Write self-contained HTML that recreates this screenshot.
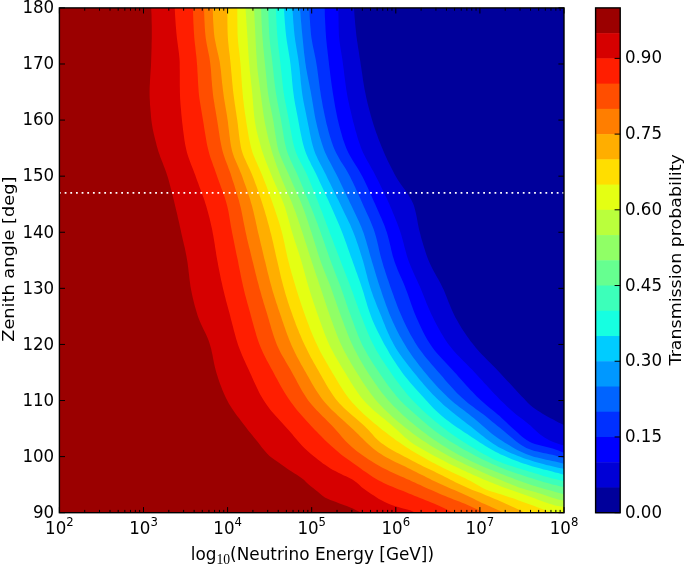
<!DOCTYPE html>
<html><head><meta charset="utf-8"><title>Transmission probability</title>
<style>html,body{margin:0;padding:0;background:#fff}svg{display:block}text{font-family:"DejaVu Sans","Liberation Sans",sans-serif;fill:#000}.ser{font-family:"Liberation Serif","DejaVu Serif",serif}</style>
</head><body>
<svg width="685" height="564" viewBox="0 0 685 564">
<rect width="685" height="564" fill="#fff"/>
<defs><clipPath id="pc"><rect x="59.4" y="7.9" width="504.6" height="504.80000000000007"/></clipPath></defs>
<g clip-path="url(#pc)" shape-rendering="geometricPrecision">
<rect x="59.4" y="7.9" width="504.6" height="504.80000000000007" fill="#9b0000"/>
<path d="M151.2,5.9 L151.2,7.9 L151.3,10.9 L151.5,13.9 L151.6,16.9 L151.6,20.0 L151.7,23.0 L151.8,26.0 L151.8,29.0 L151.8,32.0 L151.8,35.0 L151.8,38.0 L151.7,41.1 L151.6,44.1 L151.6,47.1 L151.5,50.1 L151.4,53.1 L151.3,56.1 L151.2,59.2 L151.1,62.2 L151.0,65.2 L150.8,68.2 L150.6,71.2 L150.4,74.2 L150.2,77.2 L150.0,80.2 L149.9,83.3 L149.7,86.3 L149.6,89.3 L149.6,92.3 L149.6,95.3 L149.7,98.3 L149.9,101.3 L150.0,104.4 L150.3,107.4 L150.5,110.4 L150.8,113.4 L151.0,116.4 L151.3,119.4 L151.7,122.4 L152.1,125.3 L152.6,128.3 L153.2,131.3 L153.9,134.2 L154.6,137.2 L155.3,140.1 L156.1,143.0 L156.8,146.0 L157.6,148.8 L158.5,151.7 L159.5,154.6 L160.5,157.4 L161.6,160.2 L162.7,163.0 L163.8,165.9 L164.9,168.7 L165.9,171.5 L166.9,174.4 L167.8,177.3 L168.6,180.1 L169.4,183.0 L170.2,186.0 L171.0,188.9 L171.7,191.8 L172.5,194.7 L173.2,197.7 L173.9,200.6 L174.6,203.5 L175.3,206.5 L176.0,209.4 L176.7,212.3 L177.4,215.3 L178.0,218.2 L178.7,221.1 L179.4,224.1 L180.0,227.0 L180.7,230.0 L181.3,232.9 L182.0,235.9 L182.6,238.8 L183.3,241.8 L184.0,244.7 L184.7,247.6 L185.3,250.6 L185.9,253.5 L186.5,256.5 L187.0,259.5 L187.5,262.4 L187.9,265.4 L188.3,268.4 L188.6,271.4 L189.0,274.4 L189.3,277.4 L189.7,280.4 L190.1,283.4 L190.5,286.4 L191.0,289.3 L191.6,292.3 L192.2,295.3 L192.9,298.2 L193.6,301.2 L194.3,304.1 L195.1,307.0 L196.0,309.9 L196.8,312.8 L197.7,315.7 L198.7,318.5 L199.8,321.3 L201.0,324.1 L202.3,326.8 L203.6,329.5 L205.0,332.3 L206.3,335.0 L207.5,337.8 L208.6,340.6 L209.6,343.4 L210.4,346.2 L211.2,349.1 L211.8,352.1 L212.5,355.1 L213.0,358.0 L213.6,361.0 L214.2,364.0 L214.9,366.9 L215.6,369.8 L216.4,372.7 L217.3,375.6 L218.2,378.5 L219.2,381.4 L220.2,384.2 L221.3,387.1 L222.4,389.9 L223.6,392.7 L224.8,395.4 L226.1,398.2 L227.4,400.8 L228.8,403.4 L230.4,406.0 L232.0,408.5 L233.7,411.0 L235.4,413.5 L237.2,415.9 L239.1,418.3 L240.9,420.8 L242.8,423.2 L244.6,425.6 L246.5,428.0 L248.3,430.4 L250.2,432.7 L252.1,435.1 L254.0,437.4 L255.9,439.7 L257.8,442.1 L259.7,444.5 L261.5,446.9 L263.4,449.3 L265.3,451.6 L267.3,453.8 L269.5,455.9 L271.8,457.7 L274.2,459.5 L276.8,461.2 L279.3,463.0 L281.7,464.7 L284.2,466.5 L286.6,468.2 L289.1,469.9 L291.6,471.6 L294.2,473.2 L296.8,474.8 L299.3,476.4 L301.8,478.2 L304.1,480.1 L306.2,482.2 L308.4,484.3 L310.7,486.2 L313.1,488.0 L315.5,489.9 L317.8,491.8 L320.1,493.8 L322.5,495.8 L324.9,497.4 L327.6,498.7 L330.3,499.9 L333.2,501.0 L336.0,502.1 L338.9,503.2 L341.7,504.2 L344.5,505.2 L347.4,506.3 L350.2,507.4 L352.9,508.6 L355.6,509.9 L358.3,511.3 L361.0,512.7 L364.7,514.7 L566.0,514.7 L566.0,5.9Z" fill="#d60000"/>
<path d="M174.7,5.9 L174.7,7.9 L174.9,10.9 L175.0,13.9 L175.2,17.0 L175.4,20.0 L175.6,23.0 L175.8,26.0 L176.1,29.0 L176.3,32.0 L176.6,35.0 L176.9,38.0 L177.3,41.0 L177.7,44.0 L178.1,47.0 L178.5,50.0 L178.9,53.1 L179.2,56.1 L179.5,59.1 L179.7,62.1 L179.7,65.1 L179.7,68.1 L179.8,71.1 L179.8,74.1 L179.8,77.2 L179.8,80.2 L179.8,83.2 L179.8,86.2 L179.9,89.3 L179.9,92.3 L180.0,95.3 L180.1,98.3 L180.3,101.3 L180.5,104.4 L180.8,107.4 L181.1,110.4 L181.3,113.4 L181.6,116.4 L181.9,119.4 L182.2,122.4 L182.6,125.4 L182.9,128.4 L183.3,131.5 L183.7,134.5 L184.1,137.5 L184.5,140.5 L185.0,143.4 L185.6,146.4 L186.2,149.3 L186.9,152.2 L187.7,155.1 L188.7,158.0 L189.7,160.8 L190.8,163.7 L191.9,166.5 L193.0,169.3 L194.1,172.2 L195.2,175.0 L196.2,177.9 L197.2,180.7 L198.3,183.5 L199.3,186.4 L200.4,189.2 L201.5,192.0 L202.5,194.9 L203.5,197.7 L204.5,200.6 L205.4,203.4 L206.3,206.3 L207.1,209.2 L207.9,212.1 L208.7,215.1 L209.5,218.0 L210.2,220.9 L210.9,223.9 L211.5,226.8 L212.2,229.8 L212.7,232.8 L213.3,235.7 L213.8,238.7 L214.3,241.7 L214.8,244.7 L215.2,247.7 L215.7,250.7 L216.1,253.6 L216.6,256.6 L217.1,259.6 L217.7,262.6 L218.2,265.5 L218.8,268.5 L219.4,271.5 L220.0,274.4 L220.6,277.4 L221.2,280.4 L221.9,283.3 L222.5,286.3 L223.2,289.2 L223.9,292.1 L224.6,295.1 L225.4,298.0 L226.1,300.9 L226.9,303.8 L227.7,306.8 L228.5,309.7 L229.3,312.6 L230.1,315.5 L230.8,318.4 L231.6,321.4 L232.3,324.3 L233.1,327.3 L233.8,330.2 L234.6,333.1 L235.4,336.0 L236.2,338.9 L237.1,341.8 L238.0,344.7 L239.0,347.5 L240.1,350.3 L241.2,353.1 L242.4,355.9 L243.6,358.7 L244.9,361.5 L246.1,364.2 L247.4,367.0 L248.7,369.7 L249.9,372.5 L251.2,375.2 L252.4,378.0 L253.6,380.8 L254.9,383.6 L256.2,386.3 L257.5,389.1 L258.8,391.8 L260.2,394.5 L261.7,397.1 L263.2,399.6 L264.8,402.1 L266.5,404.6 L268.3,407.0 L270.1,409.4 L272.0,411.7 L274.0,414.0 L276.0,416.3 L278.1,418.6 L280.1,420.8 L282.2,423.1 L284.2,425.3 L286.2,427.6 L288.3,429.8 L290.3,432.1 L292.3,434.3 L294.2,436.7 L296.2,439.0 L298.1,441.3 L300.1,443.6 L302.1,445.8 L304.3,447.9 L306.5,450.0 L308.7,452.0 L311.0,454.0 L313.4,455.9 L315.7,457.8 L318.1,459.7 L320.5,461.6 L322.9,463.4 L325.4,465.1 L327.9,466.8 L330.4,468.4 L333.0,469.9 L335.7,471.3 L338.4,472.7 L341.1,474.1 L343.9,475.4 L346.6,476.6 L349.4,477.9 L352.0,479.3 L354.5,481.0 L356.9,482.8 L359.2,484.8 L361.4,486.9 L363.8,488.8 L366.2,490.5 L368.7,492.2 L371.2,493.9 L373.8,495.6 L376.3,497.2 L378.9,498.9 L381.5,500.3 L384.2,501.7 L386.9,503.0 L389.7,504.2 L392.5,505.2 L395.4,506.2 L398.3,507.1 L401.2,507.9 L404.1,508.7 L407.1,509.4 L410.0,510.3 L412.8,511.4 L415.5,512.7 L419.7,514.7 L566.0,514.7 L566.0,5.9Z" fill="#ff1e00"/>
<path d="M192.9,5.9 L192.9,7.9 L193.0,10.9 L193.1,13.9 L193.2,17.0 L193.3,20.0 L193.4,23.0 L193.6,26.0 L193.7,29.0 L193.9,32.0 L194.1,35.0 L194.3,38.0 L194.6,41.0 L194.9,44.0 L195.3,47.0 L195.6,50.0 L195.9,53.0 L196.3,56.0 L196.6,59.0 L196.8,62.1 L197.1,65.1 L197.3,68.1 L197.4,71.1 L197.6,74.1 L197.8,77.1 L197.9,80.1 L198.1,83.2 L198.3,86.2 L198.5,89.2 L198.7,92.2 L199.0,95.2 L199.4,98.2 L199.8,101.1 L200.3,104.1 L200.8,107.1 L201.3,110.1 L201.8,113.1 L202.3,116.0 L202.8,119.0 L203.3,122.0 L203.8,125.0 L204.2,128.0 L204.7,131.0 L205.2,134.0 L205.7,136.9 L206.2,139.9 L206.7,142.9 L207.3,145.8 L208.0,148.7 L208.7,151.6 L209.5,154.5 L210.4,157.4 L211.4,160.3 L212.4,163.1 L213.4,166.0 L214.5,168.8 L215.5,171.7 L216.5,174.5 L217.5,177.4 L218.5,180.2 L219.5,183.1 L220.6,185.9 L221.6,188.8 L222.7,191.6 L223.7,194.5 L224.7,197.3 L225.6,200.2 L226.4,203.1 L227.2,206.0 L227.9,208.9 L228.5,211.8 L229.0,214.8 L229.5,217.8 L230.0,220.8 L230.5,223.7 L231.0,226.7 L231.6,229.7 L232.1,232.7 L232.7,235.6 L233.3,238.6 L233.9,241.5 L234.5,244.5 L235.1,247.5 L235.7,250.4 L236.3,253.4 L236.9,256.3 L237.6,259.3 L238.2,262.2 L238.7,265.2 L239.3,268.2 L239.9,271.1 L240.5,274.1 L241.1,277.0 L241.7,280.0 L242.4,282.9 L243.0,285.9 L243.7,288.8 L244.4,291.8 L245.1,294.7 L245.9,297.6 L246.7,300.5 L247.5,303.4 L248.3,306.3 L249.1,309.2 L249.9,312.1 L250.7,315.1 L251.5,318.0 L252.3,320.9 L253.1,323.8 L253.9,326.7 L254.7,329.6 L255.6,332.6 L256.4,335.5 L257.3,338.3 L258.3,341.2 L259.3,344.0 L260.4,346.8 L261.6,349.5 L262.8,352.3 L264.1,355.0 L265.5,357.7 L266.9,360.4 L268.3,363.0 L269.8,365.7 L271.2,368.4 L272.7,371.0 L274.1,373.7 L275.5,376.4 L277.0,379.0 L278.4,381.7 L279.9,384.4 L281.3,387.0 L282.8,389.6 L284.4,392.2 L286.0,394.8 L287.6,397.3 L289.3,399.8 L291.0,402.2 L292.8,404.6 L294.6,407.0 L296.5,409.4 L298.4,411.7 L300.4,414.0 L302.4,416.3 L304.4,418.6 L306.4,420.8 L308.5,423.1 L310.5,425.3 L312.6,427.5 L314.7,429.7 L316.8,431.8 L318.9,434.0 L321.0,436.1 L323.1,438.3 L325.3,440.4 L327.5,442.5 L329.7,444.6 L331.9,446.6 L334.2,448.6 L336.5,450.6 L338.8,452.6 L341.1,454.5 L343.4,456.3 L345.9,458.1 L348.4,459.8 L350.9,461.5 L353.3,463.3 L355.8,465.0 L358.3,466.8 L360.7,468.6 L363.2,470.4 L365.7,472.1 L368.2,473.8 L370.7,475.5 L373.2,477.2 L375.8,478.7 L378.3,480.2 L381.0,481.6 L383.6,482.9 L386.4,484.2 L389.1,485.4 L391.9,486.6 L394.7,487.8 L397.5,488.9 L400.3,490.0 L403.2,491.1 L406.0,492.2 L408.8,493.4 L411.6,494.5 L414.3,495.7 L417.1,496.8 L420.0,498.0 L422.8,499.1 L425.6,500.2 L428.4,501.3 L431.2,502.5 L433.9,503.6 L436.7,504.8 L439.5,506.1 L442.2,507.3 L444.9,508.6 L447.6,510.0 L450.3,511.3 L453.0,512.7 L456.9,514.7 L566.0,514.7 L566.0,5.9Z" fill="#ff4e00"/>
<path d="M204.1,5.9 L204.1,7.9 L204.1,10.9 L204.2,14.0 L204.3,17.0 L204.4,20.0 L204.6,23.0 L204.7,26.0 L204.9,29.0 L205.1,32.0 L205.4,35.0 L205.7,38.0 L206.2,41.0 L206.7,43.9 L207.3,46.9 L207.9,49.9 L208.5,52.9 L209.1,55.8 L209.6,58.8 L210.0,61.8 L210.4,64.8 L210.7,67.8 L211.0,70.8 L211.2,73.8 L211.4,76.8 L211.6,79.8 L211.9,82.8 L212.1,85.8 L212.4,88.8 L212.7,91.8 L213.0,94.8 L213.4,97.8 L213.9,100.8 L214.4,103.8 L214.8,106.8 L215.4,109.7 L215.9,112.7 L216.4,115.7 L216.9,118.7 L217.4,121.7 L217.8,124.6 L218.3,127.6 L218.7,130.6 L219.2,133.6 L219.6,136.6 L220.1,139.6 L220.7,142.6 L221.3,145.5 L221.9,148.4 L222.6,151.3 L223.5,154.2 L224.4,157.1 L225.4,159.9 L226.5,162.8 L227.6,165.6 L228.6,168.4 L229.7,171.3 L230.7,174.1 L231.6,177.0 L232.5,179.9 L233.5,182.7 L234.4,185.6 L235.3,188.5 L236.2,191.4 L237.1,194.3 L237.9,197.2 L238.8,200.1 L239.5,203.0 L240.3,205.9 L241.0,208.8 L241.6,211.8 L242.2,214.7 L242.8,217.7 L243.3,220.7 L243.9,223.6 L244.5,226.6 L245.1,229.6 L245.7,232.5 L246.4,235.5 L247.0,238.4 L247.7,241.3 L248.4,244.3 L249.1,247.2 L249.9,250.1 L250.6,253.1 L251.3,256.0 L252.0,258.9 L252.8,261.9 L253.5,264.8 L254.2,267.7 L254.9,270.6 L255.6,273.6 L256.4,276.5 L257.1,279.4 L257.9,282.3 L258.7,285.3 L259.4,288.2 L260.3,291.1 L261.1,294.0 L261.9,296.9 L262.8,299.8 L263.6,302.7 L264.5,305.6 L265.4,308.4 L266.3,311.3 L267.2,314.2 L268.0,317.1 L268.9,320.0 L269.7,322.9 L270.6,325.8 L271.4,328.7 L272.3,331.6 L273.2,334.5 L274.2,337.4 L275.2,340.2 L276.2,343.0 L277.3,345.8 L278.6,348.5 L279.9,351.2 L281.3,353.9 L282.8,356.5 L284.3,359.1 L285.8,361.8 L287.4,364.4 L288.9,367.0 L290.4,369.6 L291.9,372.2 L293.4,374.9 L294.8,377.5 L296.3,380.2 L297.7,382.9 L299.1,385.6 L300.6,388.2 L302.1,390.9 L303.7,393.5 L305.3,396.0 L306.9,398.5 L308.6,400.9 L310.5,403.2 L312.4,405.5 L314.4,407.8 L316.4,410.0 L318.5,412.1 L320.6,414.3 L322.8,416.5 L325.0,418.6 L327.1,420.7 L329.3,422.9 L331.4,425.0 L333.5,427.2 L335.5,429.5 L337.5,431.8 L339.5,434.1 L341.5,436.4 L343.5,438.7 L345.5,440.9 L347.6,443.1 L349.7,445.1 L351.9,447.1 L354.2,449.0 L356.6,450.9 L359.0,452.7 L361.5,454.5 L363.9,456.3 L366.5,458.0 L369.0,459.7 L371.6,461.3 L374.2,462.9 L376.8,464.4 L379.4,465.9 L382.0,467.4 L384.6,468.8 L387.3,470.1 L390.0,471.4 L392.8,472.7 L395.5,474.0 L398.3,475.2 L401.1,476.4 L403.8,477.6 L406.6,478.9 L409.4,480.1 L412.1,481.4 L414.8,482.6 L417.6,483.9 L420.3,485.1 L423.1,486.4 L425.8,487.7 L428.6,488.9 L431.3,490.1 L434.1,491.3 L436.9,492.5 L439.6,493.7 L442.4,494.9 L445.2,496.0 L448.0,497.2 L450.8,498.3 L453.6,499.4 L456.4,500.4 L459.3,501.5 L462.1,502.7 L464.9,503.8 L467.6,505.0 L470.4,506.2 L473.1,507.4 L475.9,508.7 L478.6,510.0 L481.3,511.3 L484.0,512.7 L488.0,514.7 L566.0,514.7 L566.0,5.9Z" fill="#ff7e00"/>
<path d="M212.8,5.9 L212.8,7.9 L212.8,10.9 L212.9,14.0 L213.0,17.0 L213.1,20.0 L213.3,23.1 L213.5,26.1 L213.7,29.1 L213.9,32.1 L214.2,35.1 L214.6,38.1 L215.2,41.1 L215.8,44.0 L216.4,47.0 L217.1,50.0 L217.8,52.9 L218.5,55.9 L219.1,58.9 L219.7,61.8 L220.1,64.8 L220.5,67.8 L220.9,70.8 L221.2,73.8 L221.5,76.9 L221.8,79.9 L222.1,82.9 L222.5,85.9 L222.8,88.9 L223.2,91.9 L223.6,94.9 L224.0,97.9 L224.5,100.9 L225.0,103.9 L225.5,106.9 L226.0,109.9 L226.5,112.8 L227.0,115.8 L227.4,118.8 L227.9,121.8 L228.2,124.8 L228.6,127.9 L229.0,130.9 L229.3,133.9 L229.7,136.9 L230.1,139.9 L230.5,142.9 L231.0,145.9 L231.6,148.8 L232.3,151.7 L233.2,154.6 L234.2,157.4 L235.4,160.2 L236.6,163.0 L237.8,165.8 L239.0,168.6 L240.2,171.4 L241.4,174.3 L242.4,177.1 L243.4,180.0 L244.4,182.8 L245.5,185.7 L246.5,188.5 L247.5,191.4 L248.4,194.3 L249.4,197.2 L250.3,200.0 L251.1,202.9 L252.0,205.8 L252.7,208.8 L253.5,211.7 L254.1,214.6 L254.8,217.6 L255.5,220.6 L256.1,223.5 L256.8,226.5 L257.4,229.4 L258.1,232.4 L258.8,235.3 L259.5,238.3 L260.2,241.2 L260.9,244.2 L261.6,247.1 L262.3,250.1 L263.0,253.0 L263.7,256.0 L264.4,258.9 L265.2,261.8 L265.9,264.8 L266.6,267.7 L267.3,270.7 L268.0,273.6 L268.8,276.6 L269.5,279.5 L270.3,282.4 L271.1,285.3 L271.9,288.3 L272.7,291.2 L273.6,294.1 L274.5,297.0 L275.4,299.8 L276.3,302.7 L277.3,305.6 L278.2,308.5 L279.2,311.3 L280.2,314.2 L281.2,317.1 L282.1,319.9 L283.1,322.8 L284.1,325.7 L285.1,328.6 L286.1,331.4 L287.1,334.3 L288.2,337.1 L289.3,339.9 L290.5,342.7 L291.6,345.5 L292.9,348.2 L294.2,351.0 L295.5,353.7 L296.9,356.4 L298.3,359.1 L299.8,361.7 L301.2,364.4 L302.7,367.0 L304.2,369.7 L305.7,372.3 L307.2,375.0 L308.7,377.6 L310.2,380.3 L311.7,382.9 L313.2,385.6 L314.8,388.2 L316.4,390.8 L318.1,393.3 L319.8,395.8 L321.5,398.2 L323.3,400.5 L325.2,402.8 L327.2,405.1 L329.3,407.3 L331.4,409.4 L333.6,411.5 L335.8,413.6 L338.0,415.7 L340.3,417.8 L342.6,419.8 L344.8,421.8 L347.1,423.9 L349.4,425.9 L351.6,428.0 L353.8,430.1 L356.0,432.2 L358.2,434.3 L360.3,436.5 L362.5,438.6 L364.7,440.8 L367.0,442.9 L369.2,444.9 L371.5,446.9 L373.8,448.9 L376.1,450.7 L378.5,452.5 L381.0,454.1 L383.5,455.7 L386.1,457.2 L388.7,458.6 L391.4,460.0 L394.2,461.4 L396.9,462.7 L399.7,464.0 L402.4,465.3 L405.2,466.6 L407.9,468.0 L410.6,469.3 L413.4,470.7 L416.1,472.1 L418.8,473.4 L421.5,474.8 L424.2,476.1 L426.9,477.5 L429.6,478.8 L432.3,480.2 L435.1,481.5 L437.8,482.8 L440.5,484.0 L443.3,485.3 L446.1,486.5 L448.8,487.7 L451.6,488.9 L454.4,490.1 L457.2,491.3 L460.0,492.5 L462.8,493.7 L465.5,494.9 L468.3,496.2 L471.0,497.5 L473.7,498.8 L476.4,500.2 L479.1,501.6 L481.9,502.9 L484.6,504.1 L487.4,505.3 L490.2,506.6 L492.9,507.8 L495.7,509.0 L498.5,510.2 L501.2,511.5 L504.0,512.7 L508.4,514.7 L566.0,514.7 L566.0,5.9Z" fill="#ffae00"/>
<path d="M227.3,5.9 L227.3,7.9 L227.3,10.9 L227.3,13.9 L227.4,17.0 L227.4,20.0 L227.4,23.0 L227.5,26.0 L227.5,29.0 L227.6,32.0 L227.7,35.1 L227.9,38.1 L228.1,41.1 L228.4,44.1 L228.7,47.1 L229.0,50.1 L229.4,53.1 L229.8,56.1 L230.1,59.1 L230.4,62.1 L230.7,65.1 L231.0,68.1 L231.2,71.1 L231.5,74.1 L231.8,77.1 L232.0,80.1 L232.3,83.1 L232.6,86.1 L232.9,89.2 L233.2,92.1 L233.6,95.1 L234.0,98.1 L234.4,101.1 L234.8,104.1 L235.3,107.1 L235.7,110.1 L236.2,113.1 L236.6,116.1 L237.1,119.0 L237.5,122.0 L237.9,125.0 L238.2,128.1 L238.6,131.1 L238.9,134.1 L239.3,137.1 L239.7,140.1 L240.2,143.1 L240.7,146.0 L241.3,148.9 L242.1,151.8 L243.0,154.6 L244.2,157.4 L245.4,160.1 L246.7,162.9 L248.0,165.7 L249.3,168.4 L250.6,171.2 L251.8,174.0 L252.9,176.8 L254.0,179.6 L255.0,182.5 L256.1,185.3 L257.1,188.1 L258.1,191.0 L259.1,193.8 L260.1,196.7 L261.0,199.6 L262.0,202.4 L262.9,205.3 L263.8,208.2 L264.7,211.1 L265.5,213.9 L266.4,216.8 L267.2,219.7 L268.0,222.7 L268.8,225.6 L269.6,228.5 L270.3,231.4 L271.1,234.3 L271.8,237.3 L272.5,240.2 L273.2,243.1 L273.8,246.1 L274.5,249.0 L275.2,252.0 L275.8,254.9 L276.5,257.9 L277.2,260.8 L277.9,263.7 L278.6,266.7 L279.2,269.6 L279.9,272.6 L280.6,275.5 L281.3,278.4 L282.1,281.4 L282.8,284.3 L283.6,287.2 L284.4,290.1 L285.2,293.0 L286.1,295.9 L287.0,298.8 L287.9,301.7 L288.8,304.5 L289.8,307.4 L290.8,310.3 L291.8,313.1 L292.8,316.0 L293.8,318.8 L294.9,321.6 L295.9,324.4 L297.0,327.3 L298.2,330.1 L299.3,332.9 L300.5,335.6 L301.7,338.4 L302.9,341.2 L304.2,343.9 L305.4,346.6 L306.8,349.3 L308.1,352.0 L309.5,354.7 L310.9,357.4 L312.4,360.0 L313.8,362.7 L315.3,365.3 L316.8,368.0 L318.3,370.6 L319.8,373.2 L321.3,375.8 L322.8,378.5 L324.3,381.1 L325.8,383.8 L327.4,386.4 L328.9,389.0 L330.6,391.6 L332.2,394.1 L333.9,396.5 L335.7,398.9 L337.6,401.2 L339.5,403.4 L341.6,405.6 L343.7,407.7 L345.9,409.7 L348.1,411.8 L350.4,413.8 L352.7,415.7 L355.1,417.7 L357.4,419.7 L359.7,421.7 L362.0,423.7 L364.2,425.8 L366.4,427.9 L368.5,430.1 L370.5,432.3 L372.6,434.6 L374.6,436.9 L376.7,439.0 L378.9,441.1 L381.2,442.9 L383.6,444.6 L386.0,446.3 L388.6,447.9 L391.2,449.5 L393.8,450.9 L396.5,452.4 L399.2,453.8 L401.9,455.3 L404.6,456.7 L407.3,458.1 L410.0,459.5 L412.7,460.9 L415.3,462.3 L418.0,463.7 L420.7,465.0 L423.4,466.4 L426.1,467.7 L428.9,469.0 L431.6,470.3 L434.3,471.6 L437.0,472.9 L439.7,474.3 L442.4,475.6 L445.1,477.0 L447.8,478.3 L450.5,479.7 L453.2,481.0 L455.9,482.4 L458.7,483.7 L461.4,485.0 L464.1,486.3 L466.9,487.5 L469.6,488.7 L472.4,489.9 L475.2,491.0 L478.0,492.0 L480.9,493.1 L483.6,494.3 L486.4,495.4 L489.2,496.6 L492.0,497.8 L494.8,498.9 L497.6,500.1 L500.3,501.3 L503.1,502.6 L505.8,503.8 L508.6,505.0 L511.3,506.3 L514.1,507.5 L516.8,508.8 L519.6,510.1 L522.3,511.4 L525.0,512.7 L529.2,514.7 L566.0,514.7 L566.0,5.9Z" fill="#ffde00"/>
<path d="M237.3,5.9 L237.3,7.9 L237.3,10.9 L237.3,14.0 L237.3,17.0 L237.4,20.0 L237.4,23.0 L237.4,26.0 L237.5,29.1 L237.5,32.1 L237.6,35.1 L237.8,38.1 L238.0,41.1 L238.3,44.1 L238.6,47.1 L239.0,50.1 L239.4,53.2 L239.7,56.2 L240.0,59.2 L240.3,62.2 L240.6,65.2 L240.8,68.2 L241.0,71.2 L241.2,74.2 L241.4,77.3 L241.6,80.3 L241.8,83.3 L242.0,86.3 L242.3,89.3 L242.5,92.3 L242.8,95.3 L243.1,98.4 L243.5,101.4 L243.8,104.4 L244.2,107.4 L244.6,110.4 L245.0,113.4 L245.5,116.4 L245.9,119.3 L246.3,122.3 L246.8,125.3 L247.3,128.3 L247.8,131.3 L248.3,134.3 L248.8,137.3 L249.4,140.3 L250.1,143.2 L250.7,146.1 L251.5,149.0 L252.3,151.9 L253.3,154.7 L254.5,157.5 L255.6,160.3 L256.9,163.1 L258.1,165.9 L259.4,168.7 L260.6,171.4 L261.8,174.2 L262.9,177.0 L264.0,179.9 L265.1,182.7 L266.2,185.5 L267.2,188.3 L268.3,191.2 L269.3,194.0 L270.4,196.9 L271.4,199.7 L272.4,202.5 L273.4,205.4 L274.4,208.3 L275.3,211.1 L276.3,214.0 L277.3,216.9 L278.2,219.8 L279.1,222.6 L280.0,225.5 L280.8,228.4 L281.6,231.3 L282.4,234.3 L283.1,237.2 L283.7,240.1 L284.4,243.1 L285.0,246.1 L285.6,249.0 L286.3,252.0 L286.9,254.9 L287.6,257.9 L288.3,260.8 L289.1,263.7 L289.8,266.7 L290.6,269.6 L291.4,272.5 L292.3,275.4 L293.1,278.3 L294.0,281.2 L294.8,284.1 L295.7,287.0 L296.6,289.9 L297.5,292.8 L298.4,295.7 L299.3,298.6 L300.3,301.4 L301.2,304.3 L302.2,307.2 L303.2,310.0 L304.2,312.9 L305.2,315.7 L306.2,318.6 L307.3,321.4 L308.4,324.2 L309.4,327.1 L310.5,329.9 L311.7,332.7 L312.8,335.5 L314.0,338.3 L315.2,341.0 L316.5,343.8 L317.8,346.5 L319.1,349.2 L320.5,351.9 L321.9,354.5 L323.4,357.2 L324.9,359.8 L326.4,362.5 L327.9,365.1 L329.4,367.7 L331.0,370.3 L332.5,372.9 L334.1,375.5 L335.6,378.1 L337.2,380.7 L338.8,383.4 L340.4,386.0 L342.0,388.5 L343.6,391.1 L345.3,393.6 L347.1,396.0 L348.9,398.4 L350.8,400.7 L352.7,402.9 L354.7,405.1 L356.8,407.3 L358.9,409.5 L361.1,411.6 L363.3,413.7 L365.6,415.7 L367.9,417.7 L370.2,419.7 L372.5,421.7 L374.8,423.7 L377.2,425.6 L379.5,427.5 L381.8,429.4 L384.2,431.3 L386.6,433.1 L389.0,435.0 L391.4,436.8 L393.9,438.6 L396.3,440.4 L398.8,442.1 L401.3,443.8 L403.8,445.5 L406.4,447.2 L408.9,448.8 L411.4,450.4 L414.0,452.0 L416.6,453.5 L419.2,455.1 L421.8,456.6 L424.5,458.0 L427.1,459.5 L429.8,460.9 L432.5,462.4 L435.2,463.8 L437.8,465.2 L440.5,466.6 L443.2,467.9 L445.9,469.3 L448.6,470.6 L451.4,471.9 L454.1,473.2 L456.9,474.4 L459.6,475.7 L462.3,477.0 L465.1,478.3 L467.8,479.7 L470.5,481.0 L473.1,482.5 L475.7,484.0 L478.4,485.6 L481.0,487.1 L483.7,488.5 L486.4,489.8 L489.2,490.8 L492.1,491.7 L495.0,492.5 L497.9,493.4 L500.8,494.3 L503.7,495.2 L506.5,496.2 L509.4,497.2 L512.3,498.1 L515.1,499.1 L518.0,500.2 L520.8,501.2 L523.6,502.2 L526.5,503.2 L529.3,504.3 L532.2,505.3 L535.0,506.3 L537.9,507.4 L540.7,508.4 L543.5,509.5 L546.3,510.6 L549.2,511.6 L552.0,512.7 L557.2,514.7 L566.0,514.7 L566.0,5.9Z" fill="#e4ff13"/>
<path d="M245.5,5.9 L245.5,7.9 L245.7,10.9 L245.9,13.9 L246.1,16.9 L246.3,19.9 L246.5,22.9 L246.7,25.9 L246.9,29.0 L247.1,32.0 L247.3,35.0 L247.5,38.0 L247.7,41.0 L247.8,44.0 L248.0,47.0 L248.2,50.0 L248.4,53.0 L248.6,56.0 L248.8,59.0 L249.0,62.0 L249.3,65.0 L249.6,68.0 L249.8,71.0 L250.2,74.0 L250.5,77.0 L250.8,80.0 L251.1,83.0 L251.5,86.0 L251.8,89.0 L252.1,92.0 L252.4,95.0 L252.6,98.0 L252.9,101.0 L253.1,104.1 L253.4,107.1 L253.6,110.1 L253.9,113.1 L254.2,116.1 L254.6,119.0 L255.0,122.0 L255.5,125.0 L256.0,127.9 L256.7,130.9 L257.4,133.8 L258.1,136.8 L258.9,139.7 L259.7,142.6 L260.5,145.5 L261.3,148.4 L262.2,151.3 L263.2,154.1 L264.2,157.0 L265.2,159.8 L266.3,162.6 L267.5,165.4 L268.6,168.2 L269.8,171.0 L270.9,173.8 L272.0,176.6 L273.2,179.4 L274.4,182.1 L275.6,184.9 L276.9,187.7 L278.1,190.4 L279.3,193.2 L280.5,195.9 L281.7,198.7 L282.8,201.5 L283.9,204.3 L284.9,207.1 L285.8,210.0 L286.7,212.9 L287.5,215.8 L288.3,218.7 L289.1,221.6 L289.9,224.5 L290.7,227.4 L291.5,230.3 L292.4,233.2 L293.3,236.1 L294.2,239.0 L295.1,241.8 L296.1,244.7 L297.0,247.6 L298.0,250.4 L298.9,253.3 L299.8,256.2 L300.7,259.0 L301.6,261.9 L302.4,264.8 L303.2,267.7 L304.0,270.6 L304.8,273.5 L305.6,276.4 L306.4,279.3 L307.2,282.3 L308.0,285.1 L308.9,288.0 L309.8,290.9 L310.7,293.8 L311.6,296.7 L312.6,299.5 L313.5,302.4 L314.5,305.2 L315.4,308.1 L316.4,311.0 L317.4,313.8 L318.4,316.6 L319.4,319.5 L320.5,322.3 L321.5,325.2 L322.5,328.0 L323.6,330.8 L324.6,333.7 L325.8,336.5 L326.9,339.2 L328.1,342.0 L329.3,344.7 L330.6,347.4 L332.0,350.1 L333.4,352.8 L334.8,355.4 L336.3,358.0 L337.9,360.7 L339.4,363.3 L341.0,365.9 L342.5,368.4 L344.1,371.0 L345.7,373.6 L347.2,376.2 L348.8,378.8 L350.4,381.4 L352.0,384.0 L353.6,386.5 L355.3,389.1 L357.0,391.6 L358.7,394.0 L360.5,396.4 L362.3,398.7 L364.3,401.0 L366.3,403.2 L368.3,405.3 L370.5,407.3 L372.7,409.4 L375.0,411.4 L377.3,413.3 L379.6,415.3 L382.0,417.2 L384.4,419.1 L386.7,421.0 L389.1,423.0 L391.4,424.9 L393.7,426.9 L396.0,428.9 L398.2,430.9 L400.4,433.0 L402.6,435.1 L404.8,437.2 L407.1,439.1 L409.4,441.0 L411.8,442.7 L414.3,444.4 L416.8,446.0 L419.4,447.6 L422.0,449.1 L424.6,450.6 L427.3,452.1 L429.9,453.6 L432.6,455.0 L435.3,456.4 L438.0,457.8 L440.6,459.2 L443.3,460.6 L446.0,462.0 L448.7,463.4 L451.4,464.7 L454.1,466.0 L456.8,467.3 L459.5,468.6 L462.3,469.9 L465.0,471.1 L467.8,472.4 L470.5,473.6 L473.3,474.9 L476.0,476.1 L478.8,477.3 L481.5,478.5 L484.3,479.7 L487.1,480.8 L489.9,482.0 L492.7,483.1 L495.5,484.3 L498.3,485.3 L501.1,486.4 L503.9,487.4 L506.8,488.4 L509.6,489.4 L512.5,490.4 L515.3,491.4 L518.2,492.4 L521.0,493.5 L523.8,494.5 L526.7,495.5 L529.5,496.5 L532.3,497.6 L535.2,498.6 L538.0,499.7 L540.8,500.7 L543.6,501.7 L546.5,502.7 L549.3,503.7 L552.2,504.6 L555.1,505.4 L558.0,506.1 L561.0,506.6 L564.0,507.1 L566.0,507.1 L566.0,5.9Z" fill="#baff3c"/>
<path d="M254.1,5.9 L254.1,7.9 L254.2,10.9 L254.4,13.9 L254.5,17.0 L254.6,20.0 L254.8,23.0 L254.9,26.0 L255.1,29.0 L255.2,32.1 L255.4,35.1 L255.5,38.1 L255.6,41.1 L255.8,44.2 L255.9,47.2 L256.1,50.2 L256.3,53.2 L256.5,56.2 L256.7,59.2 L256.9,62.3 L257.1,65.3 L257.4,68.3 L257.7,71.3 L258.1,74.3 L258.5,77.3 L258.9,80.3 L259.3,83.3 L259.7,86.3 L260.1,89.3 L260.5,92.3 L260.9,95.3 L261.3,98.3 L261.7,101.3 L262.1,104.3 L262.5,107.3 L262.9,110.3 L263.3,113.3 L263.8,116.3 L264.3,119.2 L264.8,122.2 L265.4,125.2 L266.0,128.1 L266.6,131.1 L267.3,134.0 L268.0,137.0 L268.7,139.9 L269.5,142.9 L270.3,145.8 L271.1,148.7 L271.9,151.6 L272.8,154.5 L273.8,157.3 L274.7,160.2 L275.7,163.1 L276.7,165.9 L277.8,168.8 L278.8,171.6 L279.9,174.4 L281.0,177.3 L282.1,180.1 L283.3,182.8 L284.5,185.6 L285.7,188.4 L286.9,191.2 L288.1,193.9 L289.4,196.7 L290.6,199.5 L291.7,202.3 L292.8,205.1 L293.9,207.9 L295.0,210.7 L296.0,213.6 L297.0,216.4 L298.0,219.3 L298.9,222.2 L299.9,225.0 L300.8,227.9 L301.8,230.8 L302.7,233.6 L303.7,236.5 L304.6,239.4 L305.5,242.3 L306.5,245.2 L307.4,248.0 L308.3,250.9 L309.2,253.8 L310.1,256.7 L311.1,259.6 L312.0,262.4 L313.0,265.3 L313.9,268.2 L314.9,271.0 L315.8,273.9 L316.8,276.8 L317.8,279.6 L318.7,282.5 L319.7,285.4 L320.7,288.2 L321.6,291.1 L322.6,294.0 L323.5,296.8 L324.5,299.7 L325.4,302.6 L326.4,305.5 L327.3,308.3 L328.3,311.2 L329.3,314.0 L330.3,316.9 L331.3,319.7 L332.4,322.6 L333.4,325.4 L334.4,328.3 L335.5,331.1 L336.6,334.0 L337.7,336.8 L338.8,339.6 L340.0,342.3 L341.3,345.0 L342.6,347.8 L343.9,350.5 L345.3,353.1 L346.8,355.8 L348.3,358.4 L349.8,361.1 L351.3,363.7 L352.9,366.3 L354.5,368.9 L356.1,371.4 L357.6,374.0 L359.3,376.6 L360.9,379.2 L362.5,381.7 L364.2,384.3 L365.9,386.8 L367.6,389.3 L369.4,391.8 L371.2,394.2 L373.0,396.6 L374.9,398.9 L376.8,401.2 L378.8,403.4 L380.8,405.6 L382.9,407.8 L385.1,409.9 L387.3,412.0 L389.5,414.1 L391.7,416.2 L394.0,418.2 L396.3,420.2 L398.6,422.2 L401.0,424.1 L403.3,426.0 L405.7,427.9 L408.1,429.8 L410.4,431.6 L412.8,433.5 L415.3,435.2 L417.7,437.0 L420.2,438.7 L422.7,440.4 L425.3,442.1 L427.8,443.8 L430.4,445.4 L432.9,447.0 L435.5,448.6 L438.1,450.1 L440.7,451.6 L443.4,453.1 L446.0,454.6 L448.7,456.0 L451.3,457.4 L454.0,458.8 L456.7,460.2 L459.4,461.5 L462.2,462.8 L464.9,464.2 L467.6,465.5 L470.4,466.8 L473.1,468.1 L475.8,469.3 L478.6,470.6 L481.3,471.8 L484.1,473.1 L486.9,474.3 L489.6,475.5 L492.4,476.7 L495.2,477.8 L498.0,479.0 L500.8,480.1 L503.6,481.3 L506.4,482.4 L509.2,483.6 L512.0,484.7 L514.9,485.8 L517.7,486.9 L520.5,487.9 L523.4,488.8 L526.3,489.7 L529.2,490.4 L532.2,491.2 L535.1,492.0 L537.9,492.9 L540.8,493.8 L543.7,494.8 L546.6,495.7 L549.4,496.8 L552.3,497.8 L555.2,498.6 L558.1,499.4 L561.0,500.1 L564.0,500.7 L566.0,500.7 L566.0,5.9Z" fill="#90ff66"/>
<path d="M261.1,5.9 L261.1,7.9 L261.2,10.9 L261.3,14.0 L261.4,17.0 L261.5,20.0 L261.6,23.0 L261.8,26.0 L261.9,29.1 L262.1,32.1 L262.3,35.1 L262.5,38.1 L262.8,41.1 L263.0,44.1 L263.3,47.2 L263.6,50.2 L263.9,53.2 L264.2,56.2 L264.5,59.2 L264.8,62.2 L265.1,65.2 L265.4,68.2 L265.7,71.2 L266.0,74.3 L266.3,77.3 L266.6,80.3 L266.9,83.3 L267.2,86.3 L267.6,89.3 L267.9,92.3 L268.4,95.3 L268.9,98.3 L269.4,101.2 L270.0,104.2 L270.6,107.2 L271.2,110.2 L271.8,113.1 L272.4,116.1 L272.9,119.1 L273.5,122.0 L273.9,125.0 L274.4,128.1 L274.8,131.1 L275.3,134.1 L275.8,137.1 L276.3,140.1 L276.8,143.0 L277.4,146.0 L278.1,148.9 L278.9,151.7 L279.9,154.6 L281.0,157.4 L282.2,160.2 L283.4,163.0 L284.7,165.7 L285.9,168.5 L287.2,171.3 L288.5,174.1 L289.7,176.8 L290.9,179.6 L292.1,182.4 L293.3,185.1 L294.6,187.9 L295.8,190.7 L297.1,193.4 L298.3,196.2 L299.5,199.0 L300.7,201.7 L301.8,204.5 L302.9,207.4 L304.0,210.2 L305.0,213.0 L306.0,215.9 L306.9,218.8 L307.9,221.6 L308.8,224.5 L309.8,227.4 L310.7,230.3 L311.7,233.1 L312.6,236.0 L313.5,238.9 L314.4,241.8 L315.3,244.7 L316.2,247.6 L317.1,250.5 L318.0,253.4 L318.9,256.2 L319.9,259.1 L320.9,261.9 L321.9,264.8 L323.0,267.6 L324.1,270.4 L325.2,273.2 L326.3,276.1 L327.5,278.9 L328.6,281.7 L329.7,284.5 L330.8,287.3 L331.8,290.2 L332.8,293.0 L333.8,295.9 L334.8,298.7 L335.8,301.6 L336.8,304.5 L337.8,307.3 L338.8,310.2 L339.8,313.0 L340.8,315.8 L341.9,318.7 L343.0,321.5 L344.0,324.4 L345.1,327.2 L346.2,330.0 L347.3,332.9 L348.4,335.7 L349.5,338.5 L350.7,341.2 L352.0,344.0 L353.3,346.7 L354.6,349.4 L356.0,352.1 L357.4,354.8 L358.9,357.5 L360.3,360.1 L361.9,362.7 L363.4,365.3 L365.0,367.9 L366.6,370.5 L368.2,373.0 L369.8,375.6 L371.5,378.1 L373.2,380.6 L374.9,383.1 L376.7,385.6 L378.4,388.1 L380.3,390.5 L382.1,392.9 L384.0,395.3 L385.9,397.6 L387.9,399.9 L389.9,402.1 L391.9,404.3 L394.0,406.5 L396.2,408.6 L398.4,410.8 L400.6,412.8 L402.8,414.9 L405.1,416.9 L407.3,418.9 L409.6,420.9 L411.9,422.8 L414.3,424.8 L416.6,426.7 L419.0,428.6 L421.4,430.4 L423.8,432.3 L426.2,434.1 L428.6,435.9 L431.1,437.7 L433.6,439.4 L436.1,441.1 L438.6,442.8 L441.1,444.4 L443.7,446.0 L446.2,447.6 L448.8,449.2 L451.5,450.7 L454.1,452.2 L456.7,453.7 L459.4,455.2 L462.1,456.6 L464.8,458.0 L467.5,459.3 L470.2,460.7 L472.9,462.0 L475.6,463.2 L478.4,464.5 L481.2,465.7 L483.9,466.9 L486.7,468.1 L489.5,469.2 L492.4,470.3 L495.2,471.5 L498.0,472.6 L500.8,473.7 L503.6,474.8 L506.4,475.9 L509.2,477.0 L512.1,478.1 L514.9,479.2 L517.7,480.2 L520.6,481.3 L523.4,482.3 L526.3,483.3 L529.2,484.2 L532.0,485.2 L534.9,486.1 L537.8,486.9 L540.7,487.8 L543.6,488.7 L546.5,489.5 L549.4,490.3 L552.3,491.1 L555.3,492.0 L558.2,492.8 L561.1,493.6 L564.0,494.4 L566.0,494.4 L566.0,5.9Z" fill="#66ff90"/>
<path d="M268.3,5.9 L268.3,7.9 L268.3,10.9 L268.4,14.0 L268.5,17.0 L268.6,20.0 L268.7,23.0 L268.8,26.0 L269.0,29.1 L269.1,32.1 L269.3,35.1 L269.5,38.1 L269.8,41.1 L270.1,44.1 L270.4,47.1 L270.8,50.1 L271.2,53.1 L271.6,56.1 L271.9,59.1 L272.3,62.1 L272.6,65.2 L273.0,68.2 L273.3,71.2 L273.6,74.2 L273.9,77.2 L274.3,80.2 L274.6,83.2 L275.0,86.2 L275.4,89.2 L275.8,92.2 L276.3,95.2 L276.8,98.1 L277.3,101.1 L277.9,104.1 L278.5,107.1 L279.1,110.0 L279.7,113.0 L280.2,116.0 L280.8,118.9 L281.3,121.9 L281.8,124.9 L282.3,127.9 L282.8,130.9 L283.3,133.9 L283.8,136.9 L284.3,139.9 L284.9,142.9 L285.6,145.8 L286.3,148.7 L287.1,151.5 L288.1,154.3 L289.3,157.1 L290.5,159.9 L291.8,162.7 L293.1,165.4 L294.4,168.2 L295.7,170.9 L297.0,173.7 L298.2,176.5 L299.4,179.3 L300.6,182.0 L301.7,184.8 L302.9,187.6 L304.1,190.4 L305.2,193.2 L306.4,196.0 L307.6,198.8 L308.7,201.6 L309.8,204.4 L311.0,207.2 L312.1,210.0 L313.2,212.8 L314.3,215.6 L315.4,218.4 L316.5,221.3 L317.6,224.1 L318.6,226.9 L319.7,229.8 L320.7,232.6 L321.7,235.4 L322.7,238.3 L323.7,241.1 L324.7,244.0 L325.7,246.9 L326.7,249.7 L327.7,252.6 L328.7,255.4 L329.7,258.3 L330.7,261.1 L331.8,264.0 L332.9,266.8 L333.9,269.6 L335.0,272.4 L336.1,275.2 L337.2,278.1 L338.3,280.9 L339.4,283.7 L340.5,286.5 L341.5,289.4 L342.5,292.2 L343.5,295.1 L344.5,297.9 L345.5,300.8 L346.4,303.7 L347.4,306.5 L348.4,309.4 L349.4,312.2 L350.5,315.1 L351.5,317.9 L352.6,320.8 L353.6,323.6 L354.7,326.5 L355.7,329.3 L356.8,332.1 L357.9,335.0 L359.1,337.7 L360.3,340.5 L361.5,343.2 L362.8,345.9 L364.2,348.6 L365.7,351.3 L367.2,353.9 L368.7,356.5 L370.3,359.1 L371.9,361.7 L373.5,364.2 L375.2,366.8 L376.9,369.3 L378.6,371.8 L380.2,374.3 L382.0,376.8 L383.7,379.3 L385.4,381.8 L387.2,384.2 L389.0,386.7 L390.8,389.1 L392.7,391.5 L394.6,393.8 L396.5,396.2 L398.5,398.4 L400.5,400.7 L402.6,402.8 L404.8,404.9 L407.0,407.0 L409.3,409.0 L411.5,411.1 L413.8,413.1 L416.0,415.1 L418.3,417.1 L420.6,419.1 L422.9,421.1 L425.2,423.1 L427.5,425.0 L429.9,426.9 L432.2,428.8 L434.6,430.7 L437.0,432.5 L439.5,434.2 L441.9,435.9 L444.4,437.6 L446.9,439.3 L449.5,440.9 L452.1,442.5 L454.7,444.1 L457.3,445.6 L459.9,447.2 L462.5,448.7 L465.2,450.2 L467.8,451.6 L470.5,453.1 L473.1,454.5 L475.8,455.9 L478.5,457.3 L481.2,458.7 L483.9,460.0 L486.6,461.3 L489.4,462.6 L492.1,463.9 L494.9,465.1 L497.7,466.3 L500.4,467.5 L503.2,468.6 L506.1,469.7 L508.9,470.7 L511.8,471.7 L514.6,472.7 L517.5,473.7 L520.4,474.6 L523.2,475.5 L526.1,476.5 L529.0,477.4 L531.9,478.3 L534.8,479.2 L537.7,480.2 L540.5,481.1 L543.4,482.0 L546.3,482.8 L549.3,483.6 L552.2,484.4 L555.1,485.1 L558.1,485.8 L561.0,486.4 L564.0,486.9 L566.0,486.9 L566.0,5.9Z" fill="#3cffba"/>
<path d="M276.0,5.9 L276.0,7.9 L276.1,10.9 L276.1,14.0 L276.2,17.0 L276.4,20.0 L276.5,23.0 L276.7,26.0 L276.8,29.1 L277.0,32.1 L277.2,35.1 L277.5,38.1 L277.8,41.1 L278.1,44.1 L278.4,47.1 L278.8,50.1 L279.2,53.1 L279.6,56.1 L279.9,59.2 L280.3,62.2 L280.6,65.2 L280.9,68.2 L281.3,71.2 L281.6,74.2 L281.9,77.2 L282.2,80.2 L282.5,83.2 L282.9,86.2 L283.2,89.2 L283.6,92.2 L284.1,95.2 L284.6,98.2 L285.1,101.2 L285.7,104.1 L286.3,107.1 L286.9,110.1 L287.5,113.0 L288.1,116.0 L288.7,119.0 L289.3,122.0 L289.8,125.0 L290.3,128.0 L290.9,131.0 L291.4,134.0 L292.0,136.9 L292.5,139.9 L293.2,142.9 L293.9,145.8 L294.7,148.6 L295.6,151.4 L296.7,154.2 L297.9,157.0 L299.3,159.7 L300.7,162.4 L302.1,165.1 L303.5,167.8 L304.9,170.6 L306.3,173.3 L307.5,176.0 L308.7,178.8 L309.9,181.6 L311.1,184.4 L312.2,187.2 L313.4,190.0 L314.5,192.8 L315.6,195.6 L316.7,198.4 L317.8,201.2 L318.9,204.1 L320.0,206.9 L321.1,209.7 L322.2,212.5 L323.3,215.4 L324.3,218.2 L325.4,221.0 L326.4,223.9 L327.5,226.7 L328.6,229.5 L329.6,232.4 L330.7,235.2 L331.8,238.0 L332.9,240.8 L333.9,243.7 L335.0,246.5 L336.1,249.3 L337.2,252.2 L338.3,255.0 L339.4,257.8 L340.4,260.6 L341.5,263.5 L342.6,266.3 L343.7,269.1 L344.8,271.9 L345.9,274.7 L347.0,277.6 L348.1,280.4 L349.2,283.2 L350.3,286.0 L351.3,288.9 L352.4,291.7 L353.4,294.5 L354.4,297.4 L355.4,300.2 L356.4,303.1 L357.5,306.0 L358.5,308.8 L359.5,311.6 L360.6,314.5 L361.7,317.3 L362.8,320.1 L363.9,322.9 L365.0,325.8 L366.1,328.6 L367.3,331.4 L368.5,334.2 L369.7,337.0 L370.9,339.7 L372.2,342.4 L373.6,345.1 L375.0,347.8 L376.4,350.4 L378.0,353.0 L379.5,355.6 L381.1,358.2 L382.8,360.7 L384.5,363.3 L386.1,365.8 L387.9,368.3 L389.6,370.8 L391.3,373.3 L393.0,375.7 L394.8,378.2 L396.6,380.7 L398.4,383.1 L400.2,385.5 L402.1,387.9 L404.0,390.3 L405.9,392.7 L407.8,395.0 L409.8,397.3 L411.8,399.5 L413.9,401.7 L416.0,403.8 L418.1,406.0 L420.3,408.1 L422.5,410.2 L424.7,412.2 L427.0,414.3 L429.2,416.3 L431.6,418.3 L433.9,420.2 L436.2,422.2 L438.6,424.1 L440.9,425.9 L443.3,427.8 L445.7,429.6 L448.1,431.4 L450.6,433.2 L453.1,434.9 L455.6,436.7 L458.1,438.4 L460.6,440.1 L463.1,441.7 L465.7,443.3 L468.3,444.9 L470.8,446.5 L473.4,448.1 L476.0,449.6 L478.6,451.2 L481.3,452.7 L483.9,454.2 L486.6,455.6 L489.3,457.0 L492.0,458.4 L494.7,459.7 L497.5,460.9 L500.2,462.1 L503.0,463.2 L505.9,464.2 L508.7,465.2 L511.6,466.1 L514.5,467.0 L517.4,467.9 L520.3,468.8 L523.2,469.7 L526.1,470.5 L529.0,471.4 L531.9,472.3 L534.8,473.2 L537.7,474.1 L540.6,475.0 L543.5,475.9 L546.4,476.8 L549.3,477.6 L552.2,478.4 L555.1,479.1 L558.1,479.8 L561.0,480.5 L564.0,481.1 L566.0,481.1 L566.0,5.9Z" fill="#16ffe1"/>
<path d="M284.0,5.9 L284.0,7.9 L284.1,10.9 L284.3,13.9 L284.5,17.0 L284.7,20.0 L284.9,23.0 L285.2,26.0 L285.4,29.0 L285.7,32.0 L286.0,35.0 L286.4,38.0 L286.8,41.0 L287.3,44.0 L287.8,47.0 L288.3,49.9 L288.8,52.9 L289.3,55.9 L289.8,58.9 L290.2,61.9 L290.6,64.9 L290.9,67.9 L291.2,70.9 L291.5,73.9 L291.8,76.9 L292.0,79.9 L292.3,82.9 L292.6,85.9 L292.9,89.0 L293.3,91.9 L293.7,94.9 L294.1,97.9 L294.6,100.9 L295.1,103.9 L295.7,106.9 L296.2,109.8 L296.8,112.8 L297.4,115.8 L298.0,118.7 L298.5,121.7 L299.1,124.7 L299.6,127.7 L300.2,130.7 L300.8,133.7 L301.4,136.6 L302.0,139.6 L302.7,142.5 L303.5,145.4 L304.3,148.3 L305.2,151.1 L306.3,153.9 L307.5,156.7 L308.7,159.4 L310.1,162.1 L311.4,164.9 L312.8,167.6 L314.2,170.3 L315.6,173.0 L316.9,175.7 L318.2,178.5 L319.4,181.2 L320.7,184.0 L322.0,186.7 L323.3,189.4 L324.6,192.2 L325.8,194.9 L327.1,197.7 L328.4,200.4 L329.6,203.2 L330.9,205.9 L332.1,208.7 L333.3,211.4 L334.5,214.2 L335.7,217.0 L336.9,219.7 L338.1,222.5 L339.3,225.3 L340.4,228.1 L341.6,230.9 L342.7,233.7 L343.7,236.5 L344.8,239.4 L345.8,242.2 L346.8,245.1 L347.8,247.9 L348.8,250.8 L349.8,253.6 L350.8,256.5 L351.9,259.3 L352.9,262.2 L353.9,265.0 L354.9,267.8 L355.9,270.7 L357.0,273.5 L358.0,276.4 L359.0,279.2 L360.0,282.1 L361.0,284.9 L361.9,287.8 L362.9,290.7 L363.8,293.6 L364.6,296.5 L365.5,299.4 L366.4,302.3 L367.2,305.2 L368.1,308.1 L369.1,310.9 L370.1,313.8 L371.1,316.6 L372.2,319.4 L373.4,322.2 L374.6,324.9 L375.9,327.7 L377.2,330.4 L378.5,333.1 L379.9,335.8 L381.3,338.5 L382.7,341.2 L384.1,343.9 L385.6,346.5 L387.1,349.1 L388.6,351.8 L390.1,354.4 L391.7,357.0 L393.3,359.5 L395.0,362.1 L396.6,364.6 L398.3,367.1 L400.1,369.6 L401.8,372.0 L403.6,374.4 L405.4,376.8 L407.3,379.1 L409.3,381.5 L411.2,383.8 L413.2,386.1 L415.2,388.3 L417.2,390.6 L419.3,392.8 L421.3,395.1 L423.4,397.3 L425.4,399.5 L427.5,401.7 L429.5,404.0 L431.6,406.2 L433.7,408.4 L435.8,410.5 L438.0,412.6 L440.2,414.6 L442.5,416.5 L444.9,418.4 L447.2,420.3 L449.6,422.1 L452.1,423.9 L454.6,425.7 L457.1,427.4 L459.6,429.1 L462.1,430.8 L464.6,432.5 L467.2,434.1 L469.7,435.8 L472.2,437.4 L474.7,439.1 L477.3,440.8 L479.8,442.4 L482.4,444.1 L485.0,445.7 L487.5,447.3 L490.1,448.8 L492.8,450.3 L495.4,451.7 L498.1,453.1 L500.8,454.4 L503.5,455.6 L506.3,456.8 L509.1,458.0 L511.9,459.2 L514.7,460.3 L517.5,461.3 L520.4,462.4 L523.3,463.4 L526.1,464.3 L529.0,465.3 L531.9,466.2 L534.8,467.0 L537.7,467.8 L540.6,468.6 L543.5,469.4 L546.5,470.1 L549.4,470.8 L552.3,471.6 L555.2,472.4 L558.2,473.1 L561.1,473.9 L564.0,474.7 L566.0,474.7 L566.0,5.9Z" fill="#00ccff"/>
<path d="M292.5,5.9 L292.5,7.9 L292.6,10.9 L292.8,13.9 L293.0,17.0 L293.2,20.0 L293.4,23.0 L293.7,26.0 L293.9,29.0 L294.2,32.0 L294.5,35.0 L294.9,38.0 L295.3,41.0 L295.8,44.0 L296.3,47.0 L296.8,50.0 L297.3,53.0 L297.8,55.9 L298.3,58.9 L298.7,61.9 L299.1,64.9 L299.5,67.9 L299.8,70.9 L300.1,73.9 L300.4,77.0 L300.6,80.0 L300.9,83.0 L301.3,86.0 L301.6,89.0 L302.0,92.0 L302.4,95.0 L302.9,97.9 L303.4,100.9 L304.0,103.9 L304.6,106.9 L305.2,109.8 L305.8,112.8 L306.4,115.8 L307.0,118.7 L307.6,121.7 L308.2,124.7 L308.8,127.6 L309.4,130.6 L309.9,133.6 L310.6,136.6 L311.2,139.6 L311.9,142.5 L312.7,145.4 L313.5,148.3 L314.4,151.1 L315.5,153.9 L316.7,156.6 L318.0,159.4 L319.3,162.1 L320.7,164.8 L322.2,167.5 L323.6,170.2 L325.0,172.9 L326.3,175.6 L327.6,178.4 L328.9,181.1 L330.3,183.8 L331.6,186.5 L332.9,189.2 L334.3,191.9 L335.6,194.7 L336.9,197.4 L338.3,200.1 L339.6,202.8 L340.9,205.5 L342.2,208.3 L343.5,211.0 L344.8,213.7 L346.2,216.4 L347.5,219.2 L348.8,221.9 L350.1,224.6 L351.3,227.4 L352.5,230.2 L353.6,233.0 L354.7,235.8 L355.7,238.6 L356.7,241.5 L357.7,244.3 L358.7,247.2 L359.6,250.1 L360.5,253.0 L361.4,255.8 L362.3,258.7 L363.2,261.6 L364.0,264.5 L364.8,267.5 L365.6,270.4 L366.3,273.3 L367.1,276.3 L367.8,279.2 L368.6,282.1 L369.5,285.0 L370.4,287.9 L371.3,290.7 L372.3,293.6 L373.3,296.4 L374.4,299.3 L375.5,302.1 L376.6,304.9 L377.7,307.7 L378.9,310.5 L380.0,313.3 L381.2,316.1 L382.3,318.9 L383.4,321.7 L384.6,324.6 L385.7,327.4 L386.9,330.2 L388.1,333.0 L389.4,335.7 L390.6,338.5 L392.0,341.1 L393.4,343.8 L394.9,346.4 L396.4,348.9 L398.0,351.5 L399.7,354.0 L401.5,356.4 L403.3,358.9 L405.1,361.3 L407.0,363.8 L408.9,366.2 L410.7,368.5 L412.6,370.9 L414.5,373.3 L416.4,375.6 L418.3,378.0 L420.2,380.3 L422.2,382.6 L424.2,384.9 L426.2,387.2 L428.2,389.5 L430.3,391.7 L432.3,393.9 L434.4,396.1 L436.6,398.2 L438.7,400.3 L440.9,402.3 L443.1,404.4 L445.4,406.4 L447.7,408.3 L450.0,410.3 L452.4,412.2 L454.7,414.1 L457.1,415.9 L459.5,417.8 L461.9,419.7 L464.3,421.5 L466.7,423.4 L469.1,425.2 L471.5,427.1 L473.9,429.0 L476.3,430.9 L478.6,432.8 L481.0,434.7 L483.4,436.6 L485.8,438.4 L488.3,440.3 L490.7,442.0 L493.2,443.7 L495.7,445.3 L498.3,446.9 L500.9,448.3 L503.6,449.6 L506.3,450.9 L509.0,452.2 L511.8,453.4 L514.6,454.6 L517.4,455.7 L520.3,456.8 L523.1,457.9 L526.0,458.9 L528.9,459.8 L531.7,460.8 L534.6,461.7 L537.5,462.5 L540.4,463.3 L543.3,464.1 L546.3,464.9 L549.2,465.6 L552.2,466.3 L555.1,467.0 L558.1,467.7 L561.0,468.2 L564.0,468.8 L566.0,468.8 L566.0,5.9Z" fill="#0098ff"/>
<path d="M300.0,5.9 L300.0,7.9 L300.2,10.9 L300.5,13.9 L300.7,17.0 L300.9,20.0 L301.2,23.0 L301.5,26.0 L301.7,29.0 L302.0,32.0 L302.3,35.0 L302.6,38.1 L302.9,41.1 L303.2,44.1 L303.5,47.1 L303.8,50.1 L304.1,53.1 L304.5,56.1 L304.9,59.1 L305.2,62.1 L305.7,65.1 L306.1,68.1 L306.7,71.1 L307.2,74.0 L307.8,77.0 L308.4,80.0 L309.0,83.0 L309.6,85.9 L310.2,88.9 L310.8,91.9 L311.3,94.9 L311.8,97.8 L312.3,100.8 L312.8,103.8 L313.3,106.8 L313.8,109.8 L314.3,112.8 L314.8,115.8 L315.4,118.7 L316.1,121.7 L316.7,124.6 L317.4,127.6 L318.2,130.5 L318.9,133.5 L319.7,136.4 L320.6,139.3 L321.5,142.2 L322.4,145.1 L323.4,147.9 L324.4,150.7 L325.6,153.5 L326.9,156.2 L328.2,158.9 L329.6,161.6 L331.1,164.3 L332.5,167.0 L333.9,169.7 L335.4,172.4 L336.7,175.1 L338.1,177.8 L339.4,180.5 L340.7,183.2 L342.0,186.0 L343.3,188.7 L344.6,191.4 L345.9,194.1 L347.2,196.9 L348.5,199.6 L349.8,202.4 L351.1,205.1 L352.4,207.8 L353.7,210.6 L355.0,213.3 L356.3,216.1 L357.6,218.8 L358.9,221.5 L360.1,224.3 L361.3,227.1 L362.4,229.9 L363.5,232.7 L364.4,235.6 L365.3,238.4 L366.2,241.3 L367.0,244.2 L367.9,247.2 L368.7,250.1 L369.5,253.0 L370.3,255.9 L371.2,258.8 L372.0,261.7 L372.9,264.6 L373.8,267.5 L374.7,270.4 L375.5,273.3 L376.4,276.2 L377.3,279.1 L378.2,282.0 L379.2,284.9 L380.1,287.8 L381.1,290.6 L382.0,293.5 L383.0,296.4 L384.0,299.2 L385.0,302.1 L386.0,305.0 L387.1,307.8 L388.1,310.6 L389.2,313.4 L390.4,316.2 L391.6,319.0 L392.8,321.8 L394.1,324.5 L395.4,327.3 L396.7,330.0 L398.1,332.7 L399.5,335.4 L401.0,338.0 L402.5,340.7 L404.0,343.3 L405.5,345.8 L407.1,348.4 L408.8,350.9 L410.5,353.4 L412.2,355.9 L414.0,358.4 L415.8,360.8 L417.7,363.3 L419.5,365.7 L421.4,368.0 L423.3,370.4 L425.2,372.7 L427.1,375.0 L429.1,377.4 L431.1,379.7 L433.1,381.9 L435.1,384.2 L437.1,386.4 L439.2,388.7 L441.3,390.8 L443.5,393.0 L445.6,395.1 L447.8,397.2 L450.0,399.3 L452.2,401.3 L454.5,403.2 L456.9,405.1 L459.3,407.0 L461.7,408.8 L464.2,410.6 L466.6,412.4 L469.0,414.3 L471.3,416.2 L473.7,418.1 L476.0,420.1 L478.3,422.1 L480.6,424.1 L482.9,426.1 L485.2,428.1 L487.5,430.0 L489.8,432.0 L492.2,433.9 L494.6,435.7 L497.0,437.5 L499.5,439.2 L502.0,440.8 L504.5,442.4 L507.1,444.0 L509.7,445.6 L512.4,447.2 L515.0,448.7 L517.7,450.2 L520.5,451.5 L523.2,452.8 L526.0,454.0 L528.8,455.1 L531.6,456.0 L534.4,456.9 L537.3,457.6 L540.3,458.3 L543.3,459.0 L546.2,459.7 L549.2,460.3 L552.2,461.0 L555.2,461.6 L558.1,462.3 L561.1,463.0 L564.0,463.7 L566.0,463.7 L566.0,5.9Z" fill="#0064ff"/>
<path d="M309.5,5.9 L309.5,7.9 L309.5,10.9 L309.6,14.0 L309.7,17.0 L309.9,20.0 L310.1,23.0 L310.3,26.0 L310.6,29.1 L310.8,32.1 L311.1,35.0 L311.5,38.0 L312.0,41.0 L312.5,44.0 L313.1,47.0 L313.8,49.9 L314.4,52.9 L315.0,55.9 L315.6,58.8 L316.1,61.8 L316.6,64.8 L317.1,67.8 L317.5,70.8 L317.9,73.8 L318.3,76.8 L318.7,79.8 L319.1,82.8 L319.5,85.8 L319.9,88.8 L320.4,91.8 L320.8,94.7 L321.3,97.7 L321.9,100.7 L322.4,103.7 L322.9,106.7 L323.5,109.6 L324.1,112.6 L324.7,115.6 L325.4,118.5 L326.0,121.4 L326.7,124.4 L327.5,127.3 L328.2,130.3 L329.0,133.2 L329.9,136.2 L330.8,139.1 L331.7,141.9 L332.7,144.8 L333.7,147.6 L334.9,150.3 L336.2,153.0 L337.6,155.6 L339.1,158.3 L340.6,160.9 L342.3,163.5 L343.9,166.0 L345.5,168.6 L347.1,171.2 L348.6,173.9 L350.0,176.6 L351.3,179.3 L352.7,182.0 L354.0,184.7 L355.3,187.4 L356.5,190.2 L357.8,192.9 L359.0,195.7 L360.3,198.5 L361.5,201.2 L362.7,204.0 L363.9,206.8 L365.2,209.5 L366.4,212.3 L367.7,215.0 L369.0,217.8 L370.2,220.6 L371.4,223.4 L372.5,226.2 L373.6,229.0 L374.5,231.8 L375.4,234.7 L376.2,237.6 L377.0,240.5 L377.7,243.5 L378.4,246.4 L379.0,249.4 L379.7,252.3 L380.4,255.3 L381.2,258.2 L382.0,261.1 L382.9,264.0 L383.7,266.9 L384.7,269.8 L385.6,272.7 L386.5,275.5 L387.5,278.4 L388.5,281.3 L389.4,284.1 L390.4,287.0 L391.4,289.8 L392.5,292.7 L393.5,295.5 L394.5,298.4 L395.6,301.2 L396.6,304.1 L397.7,306.9 L398.8,309.7 L400.0,312.5 L401.2,315.3 L402.4,318.0 L403.6,320.8 L404.9,323.5 L406.2,326.3 L407.6,329.0 L409.0,331.7 L410.4,334.4 L411.9,337.0 L413.4,339.6 L414.9,342.2 L416.5,344.8 L418.1,347.2 L419.9,349.7 L421.7,352.1 L423.5,354.5 L425.4,356.9 L427.3,359.2 L429.3,361.6 L431.3,363.9 L433.3,366.2 L435.3,368.5 L437.2,370.8 L439.2,373.1 L441.2,375.3 L443.2,377.6 L445.1,379.9 L447.1,382.2 L449.2,384.5 L451.2,386.8 L453.3,389.0 L455.3,391.2 L457.4,393.4 L459.6,395.5 L461.7,397.6 L464.0,399.6 L466.2,401.6 L468.5,403.5 L470.9,405.3 L473.4,407.1 L475.8,408.9 L478.3,410.7 L480.7,412.5 L483.2,414.3 L485.5,416.1 L487.9,418.0 L490.2,420.0 L492.6,421.9 L494.9,423.8 L497.2,425.7 L499.6,427.6 L502.0,429.5 L504.4,431.4 L506.7,433.4 L509.1,435.5 L511.5,437.5 L513.9,439.5 L516.3,441.4 L518.7,443.2 L521.2,445.0 L523.8,446.5 L526.3,447.9 L529.0,449.1 L531.7,450.1 L534.5,450.9 L537.4,451.6 L540.3,452.3 L543.3,452.9 L546.4,453.5 L549.4,454.2 L552.4,454.8 L555.3,455.6 L558.2,456.4 L561.1,457.3 L564.0,458.2 L566.0,458.2 L566.0,5.9Z" fill="#0030ff"/>
<path d="M324.7,5.9 L324.7,7.9 L324.8,10.9 L324.8,14.0 L324.9,17.0 L325.1,20.0 L325.2,23.0 L325.4,26.0 L325.5,29.0 L325.7,32.1 L325.9,35.1 L326.1,38.1 L326.4,41.1 L326.7,44.1 L327.0,47.1 L327.4,50.1 L327.7,53.1 L328.1,56.1 L328.4,59.1 L328.8,62.1 L329.1,65.1 L329.5,68.1 L329.9,71.1 L330.2,74.1 L330.6,77.1 L331.0,80.1 L331.4,83.1 L331.8,86.1 L332.3,89.1 L332.7,92.1 L333.2,95.1 L333.7,98.1 L334.2,101.1 L334.7,104.1 L335.2,107.0 L335.8,110.0 L336.4,113.0 L337.0,115.9 L337.6,118.9 L338.3,121.8 L339.0,124.8 L339.8,127.7 L340.6,130.7 L341.4,133.6 L342.2,136.5 L343.1,139.4 L344.1,142.3 L345.1,145.1 L346.2,147.9 L347.3,150.6 L348.6,153.3 L350.1,155.9 L351.6,158.6 L353.2,161.2 L354.8,163.7 L356.4,166.3 L358.1,168.9 L359.6,171.5 L361.1,174.2 L362.5,176.8 L363.9,179.5 L365.2,182.2 L366.5,185.0 L367.8,187.7 L369.0,190.5 L370.3,193.2 L371.5,196.0 L372.7,198.8 L373.9,201.5 L375.2,204.3 L376.4,207.1 L377.6,209.8 L378.8,212.6 L380.1,215.4 L381.3,218.1 L382.5,220.9 L383.7,223.7 L384.8,226.5 L385.8,229.4 L386.8,232.2 L387.6,235.1 L388.4,238.0 L389.2,240.9 L389.9,243.9 L390.6,246.8 L391.2,249.8 L392.0,252.7 L392.7,255.7 L393.6,258.6 L394.5,261.4 L395.5,264.3 L396.6,267.1 L397.7,269.9 L398.9,272.7 L400.1,275.4 L401.4,278.2 L402.6,281.0 L403.8,283.8 L404.9,286.6 L406.0,289.4 L407.1,292.2 L408.1,295.1 L409.1,297.9 L410.1,300.8 L411.1,303.7 L412.1,306.5 L413.1,309.3 L414.2,312.2 L415.4,315.0 L416.5,317.7 L417.8,320.5 L419.0,323.3 L420.3,326.1 L421.6,328.8 L422.9,331.5 L424.3,334.3 L425.8,336.9 L427.2,339.5 L428.8,342.1 L430.4,344.6 L432.1,347.0 L433.9,349.4 L435.7,351.7 L437.7,354.0 L439.7,356.3 L441.8,358.6 L443.9,360.8 L446.0,363.0 L448.1,365.2 L450.2,367.4 L452.3,369.7 L454.3,371.9 L456.3,374.1 L458.3,376.4 L460.4,378.7 L462.4,380.9 L464.4,383.2 L466.4,385.4 L468.5,387.7 L470.5,389.9 L472.6,392.1 L474.7,394.3 L476.8,396.4 L479.0,398.5 L481.1,400.6 L483.4,402.6 L485.7,404.6 L488.0,406.5 L490.4,408.4 L492.7,410.3 L495.1,412.2 L497.4,414.2 L499.7,416.1 L501.9,418.2 L504.1,420.2 L506.3,422.3 L508.5,424.4 L510.7,426.5 L512.9,428.5 L515.2,430.5 L517.5,432.6 L519.8,434.7 L522.1,436.7 L524.5,438.6 L527.0,440.3 L529.5,441.8 L532.1,442.9 L534.9,443.9 L537.8,444.8 L540.7,445.6 L543.7,446.3 L546.7,447.0 L549.7,447.8 L552.6,448.6 L555.5,449.6 L558.4,450.6 L561.2,451.7 L564.0,452.8 L566.0,452.8 L566.0,5.9Z" fill="#0000ff"/>
<path d="M338.4,5.9 L338.4,7.9 L338.4,10.9 L338.4,14.0 L338.5,17.0 L338.5,20.0 L338.6,23.0 L338.6,26.0 L338.7,29.0 L338.8,32.0 L338.9,35.0 L339.2,38.0 L339.5,41.0 L339.9,44.0 L340.3,47.0 L340.8,50.0 L341.3,53.0 L341.8,56.0 L342.3,59.0 L342.7,62.0 L343.1,65.0 L343.5,68.0 L343.9,71.0 L344.2,74.0 L344.6,77.0 L345.0,80.0 L345.4,82.9 L345.8,85.9 L346.2,88.9 L346.7,91.9 L347.2,94.9 L347.7,97.8 L348.3,100.8 L349.0,103.7 L349.6,106.7 L350.3,109.6 L351.0,112.6 L351.7,115.5 L352.4,118.5 L353.1,121.4 L353.9,124.3 L354.7,127.2 L355.4,130.2 L356.3,133.1 L357.1,136.0 L358.0,138.9 L358.9,141.8 L359.9,144.6 L360.9,147.4 L362.0,150.2 L363.2,152.9 L364.5,155.6 L365.9,158.3 L367.4,161.0 L368.9,163.6 L370.4,166.2 L371.9,168.9 L373.4,171.5 L374.8,174.2 L376.2,176.9 L377.5,179.6 L378.9,182.3 L380.2,185.0 L381.5,187.7 L382.9,190.4 L384.2,193.1 L385.5,195.9 L386.8,198.6 L388.0,201.3 L389.3,204.1 L390.5,206.9 L391.7,209.6 L392.8,212.4 L394.0,215.2 L395.1,218.0 L396.2,220.8 L397.3,223.6 L398.4,226.5 L399.4,229.3 L400.4,232.2 L401.3,235.0 L402.1,237.9 L402.9,240.8 L403.7,243.8 L404.4,246.7 L405.2,249.6 L406.0,252.5 L406.8,255.4 L407.7,258.3 L408.7,261.2 L409.8,264.0 L410.9,266.8 L412.1,269.5 L413.3,272.3 L414.5,275.1 L415.8,277.8 L417.1,280.6 L418.3,283.3 L419.6,286.1 L420.8,288.8 L421.9,291.6 L423.1,294.4 L424.2,297.2 L425.3,300.0 L426.4,302.9 L427.6,305.7 L428.8,308.4 L430.0,311.2 L431.2,313.9 L432.5,316.6 L433.8,319.3 L435.2,322.0 L436.6,324.7 L438.1,327.4 L439.5,330.1 L441.0,332.7 L442.6,335.3 L444.2,337.9 L445.8,340.4 L447.5,342.9 L449.2,345.3 L451.1,347.6 L453.0,349.9 L455.0,352.2 L457.0,354.4 L459.1,356.6 L461.2,358.8 L463.4,360.9 L465.5,363.1 L467.7,365.2 L469.8,367.4 L472.0,369.5 L474.0,371.7 L476.1,373.9 L478.1,376.2 L480.2,378.4 L482.2,380.6 L484.2,382.9 L486.3,385.1 L488.3,387.3 L490.4,389.6 L492.4,391.8 L494.5,394.0 L496.6,396.1 L498.7,398.3 L500.8,400.4 L503.0,402.5 L505.1,404.6 L507.3,406.7 L509.6,408.8 L511.8,410.8 L514.1,412.7 L516.4,414.7 L518.8,416.5 L521.2,418.3 L523.6,420.1 L526.0,422.0 L528.4,423.9 L530.7,425.8 L532.9,427.9 L535.1,430.0 L537.2,432.1 L539.5,434.1 L542.0,435.8 L544.5,437.4 L547.1,438.9 L549.8,440.4 L552.6,441.7 L555.3,442.8 L558.2,443.8 L561.1,444.7 L564.0,445.5 L566.0,445.5 L566.0,5.9Z" fill="#0000d6"/>
<path d="M354.0,5.9 L354.0,7.9 L354.2,10.9 L354.4,13.9 L354.6,17.0 L354.9,20.0 L355.1,23.0 L355.4,26.0 L355.7,29.0 L356.0,32.0 L356.3,35.0 L356.7,38.0 L357.1,41.0 L357.6,44.0 L358.0,47.0 L358.5,50.0 L359.0,53.0 L359.4,56.0 L359.9,59.0 L360.4,62.0 L360.8,64.9 L361.3,67.9 L361.7,70.9 L362.2,73.9 L362.6,76.9 L363.0,79.9 L363.5,82.9 L364.0,85.9 L364.5,88.9 L365.1,91.8 L365.7,94.8 L366.3,97.8 L367.0,100.7 L367.7,103.7 L368.4,106.6 L369.2,109.5 L370.0,112.5 L370.8,115.4 L371.6,118.3 L372.5,121.2 L373.3,124.1 L374.3,126.9 L375.2,129.8 L376.2,132.7 L377.3,135.5 L378.3,138.4 L379.4,141.2 L380.5,144.0 L381.6,146.8 L382.8,149.6 L384.0,152.4 L385.2,155.2 L386.5,157.9 L387.7,160.7 L389.1,163.4 L390.4,166.1 L391.8,168.8 L393.2,171.5 L394.6,174.2 L396.0,176.8 L397.6,179.4 L399.3,182.0 L401.0,184.5 L402.8,187.0 L404.7,189.6 L406.4,192.1 L408.2,194.6 L409.8,197.2 L411.3,199.8 L412.6,202.4 L413.7,205.1 L414.6,207.9 L415.3,210.7 L416.0,213.7 L416.6,216.6 L417.2,219.7 L417.7,222.7 L418.3,225.7 L418.9,228.7 L419.6,231.6 L420.4,234.6 L421.1,237.5 L422.0,240.4 L422.8,243.3 L423.7,246.3 L424.6,249.1 L425.5,252.0 L426.5,254.9 L427.5,257.7 L428.6,260.5 L429.8,263.3 L431.1,266.0 L432.4,268.7 L433.9,271.4 L435.3,274.0 L436.8,276.7 L438.3,279.3 L439.8,282.0 L441.2,284.7 L442.5,287.4 L443.8,290.1 L445.0,292.9 L446.1,295.7 L447.2,298.6 L448.3,301.4 L449.5,304.2 L450.6,307.0 L451.8,309.8 L453.0,312.6 L454.3,315.3 L455.7,317.9 L457.2,320.6 L458.7,323.2 L460.2,325.8 L461.8,328.4 L463.5,330.9 L465.2,333.5 L466.9,336.0 L468.7,338.5 L470.4,340.9 L472.3,343.3 L474.1,345.6 L476.0,348.0 L478.0,350.2 L480.0,352.5 L482.1,354.7 L484.2,356.8 L486.3,359.0 L488.5,361.2 L490.6,363.3 L492.8,365.5 L494.9,367.6 L497.0,369.8 L499.1,372.0 L501.2,374.2 L503.2,376.4 L505.3,378.7 L507.4,380.9 L509.4,383.1 L511.5,385.3 L513.5,387.5 L515.6,389.7 L517.6,392.0 L519.7,394.2 L521.8,396.4 L523.9,398.6 L525.9,400.8 L528.0,403.0 L530.1,405.1 L532.5,407.0 L534.9,408.8 L537.5,410.5 L540.0,412.1 L542.6,413.7 L545.2,415.2 L547.8,416.7 L550.5,418.2 L553.2,419.6 L555.8,421.0 L558.5,422.4 L561.3,423.7 L564.0,425.0 L566.0,425.0 L566.0,5.9Z" fill="#00009b"/>
<line x1="59.4" y1="192.8" x2="564.0" y2="192.8" stroke="#fff" stroke-width="1.7" stroke-dasharray="1.8 3.856" stroke-dashoffset="0.4"/>
</g>
<rect x="59.4" y="7.9" width="504.6" height="504.80000000000007" fill="none" stroke="#000" stroke-width="1.4"/>
<path d="M59.40,512.7v-5.6M59.40,7.9v5.6M84.72,512.7v-2.8M84.72,7.9v2.8M99.53,512.7v-2.8M99.53,7.9v2.8M110.03,512.7v-2.8M110.03,7.9v2.8M118.18,512.7v-2.8M118.18,7.9v2.8M124.84,512.7v-2.8M124.84,7.9v2.8M130.47,512.7v-2.8M130.47,7.9v2.8M135.35,512.7v-2.8M135.35,7.9v2.8M139.65,512.7v-2.8M139.65,7.9v2.8M143.50,512.7v-5.6M143.50,7.9v5.6M168.82,512.7v-2.8M168.82,7.9v2.8M183.63,512.7v-2.8M183.63,7.9v2.8M194.13,512.7v-2.8M194.13,7.9v2.8M202.28,512.7v-2.8M202.28,7.9v2.8M208.94,512.7v-2.8M208.94,7.9v2.8M214.57,512.7v-2.8M214.57,7.9v2.8M219.45,512.7v-2.8M219.45,7.9v2.8M223.75,512.7v-2.8M223.75,7.9v2.8M227.60,512.7v-5.6M227.60,7.9v5.6M252.92,512.7v-2.8M252.92,7.9v2.8M267.73,512.7v-2.8M267.73,7.9v2.8M278.23,512.7v-2.8M278.23,7.9v2.8M286.38,512.7v-2.8M286.38,7.9v2.8M293.04,512.7v-2.8M293.04,7.9v2.8M298.67,512.7v-2.8M298.67,7.9v2.8M303.55,512.7v-2.8M303.55,7.9v2.8M307.85,512.7v-2.8M307.85,7.9v2.8M311.70,512.7v-5.6M311.70,7.9v5.6M337.02,512.7v-2.8M337.02,7.9v2.8M351.83,512.7v-2.8M351.83,7.9v2.8M362.33,512.7v-2.8M362.33,7.9v2.8M370.48,512.7v-2.8M370.48,7.9v2.8M377.14,512.7v-2.8M377.14,7.9v2.8M382.77,512.7v-2.8M382.77,7.9v2.8M387.65,512.7v-2.8M387.65,7.9v2.8M391.95,512.7v-2.8M391.95,7.9v2.8M395.80,512.7v-5.6M395.80,7.9v5.6M421.12,512.7v-2.8M421.12,7.9v2.8M435.93,512.7v-2.8M435.93,7.9v2.8M446.43,512.7v-2.8M446.43,7.9v2.8M454.58,512.7v-2.8M454.58,7.9v2.8M461.24,512.7v-2.8M461.24,7.9v2.8M466.87,512.7v-2.8M466.87,7.9v2.8M471.75,512.7v-2.8M471.75,7.9v2.8M476.05,512.7v-2.8M476.05,7.9v2.8M479.90,512.7v-5.6M479.90,7.9v5.6M505.22,512.7v-2.8M505.22,7.9v2.8M520.03,512.7v-2.8M520.03,7.9v2.8M530.53,512.7v-2.8M530.53,7.9v2.8M538.68,512.7v-2.8M538.68,7.9v2.8M545.34,512.7v-2.8M545.34,7.9v2.8M550.97,512.7v-2.8M550.97,7.9v2.8M555.85,512.7v-2.8M555.85,7.9v2.8M560.15,512.7v-2.8M560.15,7.9v2.8M564.00,512.7v-5.6M564.00,7.9v5.6M59.4,512.70h5.6M564.0,512.70h-5.6M59.4,456.61h5.6M564.0,456.61h-5.6M59.4,400.52h5.6M564.0,400.52h-5.6M59.4,344.43h5.6M564.0,344.43h-5.6M59.4,288.34h5.6M564.0,288.34h-5.6M59.4,232.26h5.6M564.0,232.26h-5.6M59.4,176.17h5.6M564.0,176.17h-5.6M59.4,120.08h5.6M564.0,120.08h-5.6M59.4,63.99h5.6M564.0,63.99h-5.6M59.4,7.90h5.6M564.0,7.90h-5.6" stroke="#000" stroke-width="1" fill="none"/>
<text transform="translate(54.20,518.00) scale(1,1.047)" font-size="16.67" text-anchor="end">90</text>
<text transform="translate(54.20,461.91) scale(1,1.047)" font-size="16.67" text-anchor="end">100</text>
<text transform="translate(54.20,405.82) scale(1,1.047)" font-size="16.67" text-anchor="end">110</text>
<text transform="translate(54.20,349.73) scale(1,1.047)" font-size="16.67" text-anchor="end">120</text>
<text transform="translate(54.20,293.64) scale(1,1.047)" font-size="16.67" text-anchor="end">130</text>
<text transform="translate(54.20,237.56) scale(1,1.047)" font-size="16.67" text-anchor="end">140</text>
<text transform="translate(54.20,181.47) scale(1,1.047)" font-size="16.67" text-anchor="end">150</text>
<text transform="translate(54.20,125.38) scale(1,1.047)" font-size="16.67" text-anchor="end">160</text>
<text transform="translate(54.20,69.29) scale(1,1.047)" font-size="16.67" text-anchor="end">170</text>
<text transform="translate(54.20,13.20) scale(1,1.047)" font-size="16.67" text-anchor="end">180</text>
<text transform="translate(45.10,534.30) scale(1,1.047)" font-size="16.67">10<tspan dy="-8.4" font-size="11.67">2</tspan></text>
<text transform="translate(129.20,534.30) scale(1,1.047)" font-size="16.67">10<tspan dy="-8.4" font-size="11.67">3</tspan></text>
<text transform="translate(213.30,534.30) scale(1,1.047)" font-size="16.67">10<tspan dy="-8.4" font-size="11.67">4</tspan></text>
<text transform="translate(297.40,534.30) scale(1,1.047)" font-size="16.67">10<tspan dy="-8.4" font-size="11.67">5</tspan></text>
<text transform="translate(381.50,534.30) scale(1,1.047)" font-size="16.67">10<tspan dy="-8.4" font-size="11.67">6</tspan></text>
<text transform="translate(465.60,534.30) scale(1,1.047)" font-size="16.67">10<tspan dy="-8.4" font-size="11.67">7</tspan></text>
<text transform="translate(549.70,534.30) scale(1,1.047)" font-size="16.67">10<tspan dy="-8.4" font-size="11.67">8</tspan></text>
<text transform="translate(190.70,559.50) scale(1.012,1.047)" font-size="16.67">log<tspan class="ser" dy="4.2" font-size="13.5">10</tspan><tspan dy="-4.2">(Neutrino Energy [GeV])</tspan></text>
<text transform="translate(14.00,259.20) scale(1,1.064) rotate(-90)" font-size="16.67" text-anchor="middle">Zenith angle [deg]</text>
<rect x="595.6" y="7.90" width="24.600000000000023" height="25.74" fill="#9b0000"/>
<rect x="595.6" y="33.14" width="24.600000000000023" height="25.74" fill="#d60000"/>
<rect x="595.6" y="58.38" width="24.600000000000023" height="25.74" fill="#ff1e00"/>
<rect x="595.6" y="83.62" width="24.600000000000023" height="25.74" fill="#ff4e00"/>
<rect x="595.6" y="108.86" width="24.600000000000023" height="25.74" fill="#ff7e00"/>
<rect x="595.6" y="134.10" width="24.600000000000023" height="25.74" fill="#ffae00"/>
<rect x="595.6" y="159.34" width="24.600000000000023" height="25.74" fill="#ffde00"/>
<rect x="595.6" y="184.58" width="24.600000000000023" height="25.74" fill="#e4ff13"/>
<rect x="595.6" y="209.82" width="24.600000000000023" height="25.74" fill="#baff3c"/>
<rect x="595.6" y="235.06" width="24.600000000000023" height="25.74" fill="#90ff66"/>
<rect x="595.6" y="260.30" width="24.600000000000023" height="25.74" fill="#66ff90"/>
<rect x="595.6" y="285.54" width="24.600000000000023" height="25.74" fill="#3cffba"/>
<rect x="595.6" y="310.78" width="24.600000000000023" height="25.74" fill="#16ffe1"/>
<rect x="595.6" y="336.02" width="24.600000000000023" height="25.74" fill="#00ccff"/>
<rect x="595.6" y="361.26" width="24.600000000000023" height="25.74" fill="#0098ff"/>
<rect x="595.6" y="386.50" width="24.600000000000023" height="25.74" fill="#0064ff"/>
<rect x="595.6" y="411.74" width="24.600000000000023" height="25.74" fill="#0030ff"/>
<rect x="595.6" y="436.98" width="24.600000000000023" height="25.74" fill="#0000ff"/>
<rect x="595.6" y="462.22" width="24.600000000000023" height="25.74" fill="#0000d6"/>
<rect x="595.6" y="487.46" width="24.600000000000023" height="25.74" fill="#00009b"/>
<rect x="595.6" y="7.9" width="24.600000000000023" height="504.80000000000007" fill="none" stroke="#000" stroke-width="1.4"/>
<text transform="translate(624.90,517.80) scale(1,1.047)" font-size="16.67">0.00</text>
<text transform="translate(624.90,442.08) scale(1,1.047)" font-size="16.67">0.15</text>
<text transform="translate(624.90,366.36) scale(1,1.047)" font-size="16.67">0.30</text>
<text transform="translate(624.90,290.64) scale(1,1.047)" font-size="16.67">0.45</text>
<text transform="translate(624.90,214.92) scale(1,1.047)" font-size="16.67">0.60</text>
<text transform="translate(624.90,139.20) scale(1,1.047)" font-size="16.67">0.75</text>
<text transform="translate(624.90,63.48) scale(1,1.047)" font-size="16.67">0.90</text>
<path d="M620.2,512.70h-5.6M620.2,436.98h-5.6M620.2,361.26h-5.6M620.2,285.54h-5.6M620.2,209.82h-5.6M620.2,134.10h-5.6M620.2,58.38h-5.6" stroke="#000" stroke-width="1" fill="none"/>
<text transform="translate(681.00,259.80) scale(1,1.047) rotate(-90)" font-size="16.67" text-anchor="middle">Transmission probability</text>
</svg></body></html>
